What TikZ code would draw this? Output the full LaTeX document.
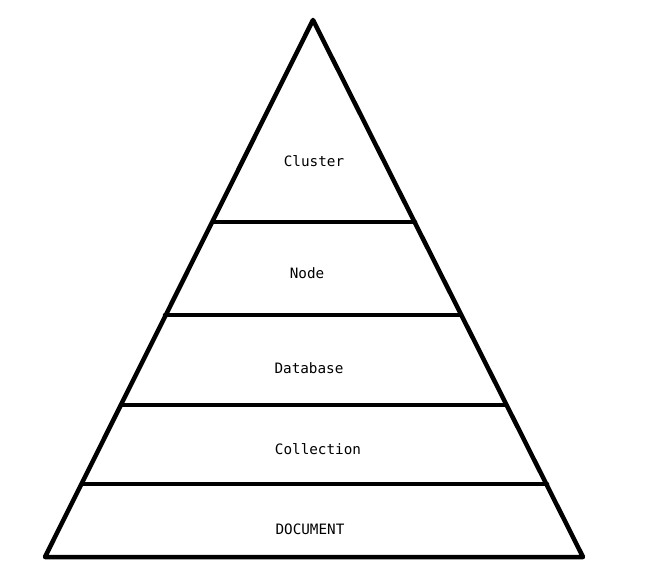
\documentclass[tikz,border=0pt]{standalone}
\usepackage{fontspec}
\newfontfamily\monofont{DejaVu Sans Mono}
\begin{document}
\begin{tikzpicture}[x=1pt,y=-1pt,
  edge/.style={line width=4.5pt,line join=round,line cap=round},
  lbl/.style={font=\monofont\fontsize{14.3}{16}\selectfont,inner sep=0pt}]
\useasboundingbox[fill=white] (0,0) rectangle (646,585);
\coordinate (top) at (313,20);
\coordinate (bl) at (45,557);
\coordinate (br) at (583,557);
\draw[edge] (top) -- (bl) -- (br) -- cycle;
\draw[edge] (213,222) -- (415,222);
\draw[edge] (165,315) -- (461,315);
\draw[edge] (121,405) -- (506,405);
\draw[edge] (82,484) -- (547,484);
\node[lbl] (cluster) at (314,161) {Cluster};
\node[lbl] (node) at (307,273) {Node};
\node[lbl] (db) at (309,368) {Database};
\node[lbl] (coll) at (318,449) {Collection};
\node[lbl] (doc) at (310,529) {DOCUMENT};
\end{tikzpicture}
\end{document}
